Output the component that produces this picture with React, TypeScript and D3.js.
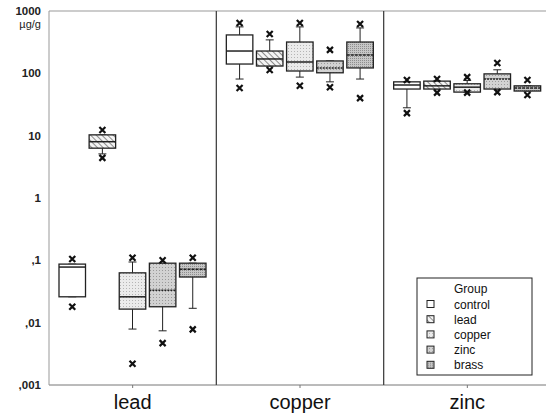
import * as d3 from 'd3';
import React from 'react';

const metals = ['lead', 'copper', 'zinc'];
const groups = ['control', 'lead', 'copper', 'zinc', 'brass'];
const yTicks = [0.001, 0.01, 0.1, 1, 10, 100, 1000];
const yTickLabels = [',001', ',01', ',1', '1', '10', '100', '1000'];

// per metal, one row per group: [whiskerLow, q1, median, q3, whiskerHigh, xLow, xHigh]
const leadStats = [
  [0.026, 0.026, 0.078, 0.087, 0.087, 0.018, 0.105],
  [5.1, 6.3, 8.0, 10.3, 10.3, 4.4, 12.3],
  [0.0079, 0.0165, 0.026, 0.063, 0.094, 0.0022, 0.11],
  [0.0074, 0.018, 0.033, 0.09, 0.09, 0.0047, 0.1],
  [0.017, 0.054, 0.072, 0.09, 0.09, 0.0078, 0.11],
];
const copperStats = [
  [81, 141, 228, 413, 556, 58, 642],
  [131, 131, 170, 228, 344, 113, 428],
  [87, 109, 152, 318, 556, 63, 642],
  [73, 102, 122, 158, 158, 60, 238],
  [81, 122, 197, 318, 535, 40, 620],
];
const zincStats = [
  [28, 56, 65, 73, 73, 23, 78],
  [56, 56, 63, 75, 75, 49, 81],
  [50, 50, 60, 68, 77, 49, 87],
  [56, 56, 81, 98, 114, 50, 147],
  [52, 52, 58, 63, 63, 45, 78],
];
const statsByMetal = [leadStats, copperStats, zincStats];

const fills = ['#ffffff', 'url(#hatch)', 'url(#dotLight)', 'url(#dotMid)', 'url(#dotDark)'];
const medianDash = ['', '', '', '2,1', '3,1'];

const W = 546;
const H = 415;
const left = 49;
const top = 11;
const bottom = 385;
const right = 551;
const font = '"Liberation Sans", Arial, sans-serif';

export default function App() {
  const y = d3.scaleLog().domain([0.001, 1000]).range([bottom, top]);
  const x = d3.scaleBand().domain(metals).range([left, right]);
  const inner = d3.scaleBand().domain(groups).range([10, 157]).paddingInner(0.12);
  const bw = inner.bandwidth();

  const cross = (cx: number, cy: number, k: string) => (
    <path key={k} d={`M${cx - 3},${cy - 3}L${cx + 3},${cy + 3}M${cx - 3},${cy + 3}L${cx + 3},${cy - 3}`}
      stroke="#111" strokeWidth={2.2} />
  );

  return (
    <svg width={W} height={H} style={{ position: 'absolute', left: 0, top: 0, background: '#fff' }}>
      <defs>
        <pattern id="hatch" width="4" height="4" patternUnits="userSpaceOnUse" patternTransform="rotate(-45)">
          <rect width="4" height="4" fill="#f4f4f4" />
          <line x1="0" y1="0" x2="0" y2="4" stroke="#555" strokeWidth="1.3" />
        </pattern>
        <pattern id="dotLight" width="3" height="3" patternUnits="userSpaceOnUse">
          <rect width="3" height="3" fill="#ebebeb" />
          <rect width="1" height="1" fill="#b5b5b5" />
        </pattern>
        <pattern id="dotMid" width="3" height="3" patternUnits="userSpaceOnUse">
          <rect width="3" height="3" fill="#d2d2d2" />
          <rect width="1" height="1" fill="#9a9a9a" />
        </pattern>
        <pattern id="dotDark" width="2" height="2" patternUnits="userSpaceOnUse">
          <rect width="2" height="2" fill="#c6c6c6" />
          <rect width="1" height="1" fill="#8e8e8e" />
        </pattern>
      </defs>

      {/* frame */}
      <line x1={left} x2={W} y1={top} y2={top} stroke="#999" />
      <line x1={left} x2={W} y1={bottom} y2={bottom} stroke="#777" />
      <line x1={left} x2={left} y1={top} y2={bottom} stroke="#999" />
      {metals.slice(1).map(m => (
        <line key={m} x1={x(m)!} x2={x(m)!} y1={top} y2={bottom} stroke="#444" strokeWidth={1.3} />
      ))}

      {/* y axis */}
      {yTicks.map((t, i) => (
        <text key={t} x={41} y={y(t) + 4} textAnchor="end" fontFamily={font} fontSize={11.5}
          fontWeight="bold" fill="#222">{yTickLabels[i]}</text>
      ))}
      <text x={41} y={y(1000) + 17} textAnchor="end" fontFamily={font} fontSize={11} fill="#222">µg/g</text>

      {/* x axis */}
      {metals.map(m => {
        const cx = x(m)! + x.bandwidth() / 2;
        return (
          <g key={m}>
            <line x1={cx} x2={cx} y1={bottom} y2={bottom + 3} stroke="#777" />
            <text x={cx} y={409} textAnchor="middle" fontFamily={font} fontSize={20} fill="#111">{m}</text>
          </g>
        );
      })}

      {/* boxes */}
      {metals.map((m, mi) => statsByMetal[mi].map((s, gi) => {
        const [wLo, q1, med, q3, wHi, xLo, xHi] = s;
        const x0 = x(m)! + inner(groups[gi])!;
        const cx = x0 + bw / 2;
        return (
          <g key={m + gi}>
            <line x1={cx} x2={cx} y1={y(wHi)} y2={y(q3)} stroke="#222" />
            <line x1={cx} x2={cx} y1={y(q1)} y2={y(wLo)} stroke="#222" />
            <line x1={cx - 4} x2={cx + 4} y1={y(wHi)} y2={y(wHi)} stroke="#222" />
            <line x1={cx - 4} x2={cx + 4} y1={y(wLo)} y2={y(wLo)} stroke="#222" />
            <rect x={x0} y={y(q3)} width={bw} height={y(q1) - y(q3)} fill={fills[gi]} stroke="#222" strokeWidth={1.3} />
            <line x1={x0} x2={x0 + bw} y1={y(med)} y2={y(med)} stroke="#222" strokeWidth={1.5}
              strokeDasharray={medianDash[gi] || undefined} />
            {cross(cx, y(xLo), 'lo')}
            {cross(cx, y(xHi), 'hi')}
          </g>
        );
      }))}

      {/* legend */}
      <g fontFamily={font} fontSize={12} fill="#111">
        <rect x={417} y={278} width={115} height={97} fill="#fff" stroke="#222" />
        <text x={454} y={293}>Group</text>
        {groups.map((g, i) => (
          <g key={g} transform={`translate(0,${308.5 + i * 15.2})`}>
            <rect x={427} y={-8} width={7} height={7} fill={fills[i]} stroke="#222" />
            <text x={454} y={0}>{g}</text>
          </g>
        ))}
      </g>
    </svg>
  );
}
